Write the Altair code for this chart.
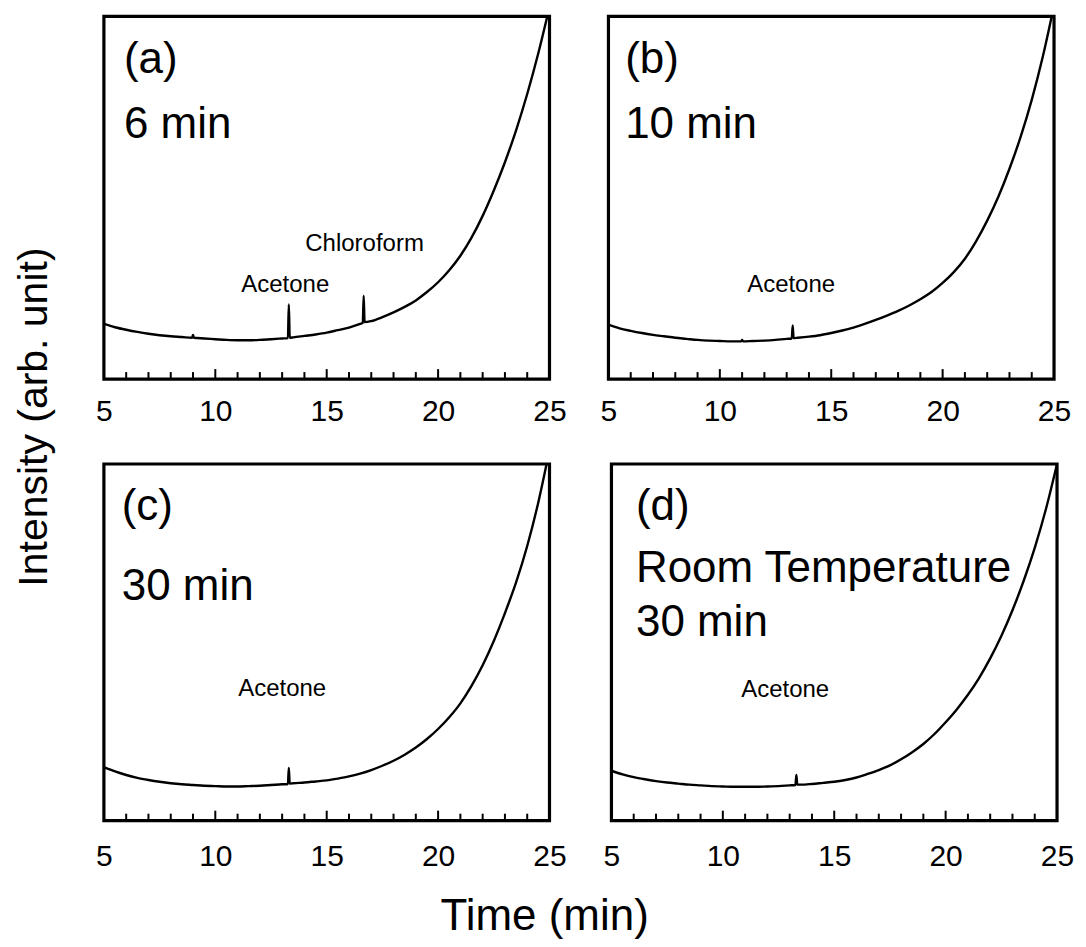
import altair as alt
import pandas as pd

FONT = "Liberation Sans"

# ---------------- data ----------------
# Panel (a) 6 min
time_a = [5.0, 5.5, 6.0, 6.5, 7.0, 7.5, 8.0, 8.5, 8.96, 9.0, 9.04, 9.5, 10.0, 10.5, 11.0, 11.5,
          12.0, 12.5, 13.0, 13.26, 13.3, 13.34, 13.5, 14.0, 14.5, 15.0, 15.5, 16.0, 16.5,
          16.62, 16.66, 16.7, 17.0, 17.5, 18.0, 18.5, 19.0, 19.5, 20.0, 20.5, 21.0, 21.5,
          22.0, 22.5, 23.0, 23.5, 24.0, 24.5, 25.0]
int_a = [0.152, 0.143, 0.136, 0.130, 0.125, 0.121, 0.118, 0.116, 0.114, 0.122, 0.114, 0.112,
         0.110, 0.108, 0.107, 0.107, 0.108, 0.110, 0.112, 0.113, 0.206, 0.114, 0.115, 0.119,
         0.123, 0.128, 0.135, 0.142, 0.152, 0.155, 0.230, 0.157, 0.160, 0.171, 0.184, 0.199,
         0.217, 0.240, 0.267, 0.300, 0.340, 0.390, 0.450, 0.520, 0.598, 0.686, 0.786, 0.899,
         1.026]

# Panel (b) 10 min
time_b = [5.0, 5.5, 6.0, 6.5, 7.0, 7.5, 8.0, 8.5, 9.0, 9.5, 10.0, 10.5, 10.96, 11.0, 11.04,
          11.5, 12.0, 12.5, 13.0, 13.23, 13.27, 13.31, 13.5, 14.0, 14.5, 15.0, 15.5, 16.0,
          16.5, 17.0, 17.5, 18.0, 18.5, 19.0, 19.5, 20.0, 20.5, 21.0, 21.5, 22.0, 22.5, 23.0,
          23.5, 24.0, 24.5, 25.0]
int_b = [0.150, 0.140, 0.133, 0.127, 0.122, 0.118, 0.114, 0.111, 0.108, 0.106, 0.105, 0.104,
         0.104, 0.108, 0.104, 0.105, 0.106, 0.108, 0.111, 0.112, 0.148, 0.113, 0.114, 0.117,
         0.121, 0.127, 0.134, 0.142, 0.152, 0.163, 0.175, 0.188, 0.203, 0.220, 0.240, 0.265,
         0.295, 0.332, 0.380, 0.437, 0.503, 0.580, 0.668, 0.770, 0.890, 1.030]

# Panel (c) 30 min
time_c = [5.0, 5.5, 6.0, 6.5, 7.0, 7.5, 8.0, 8.5, 9.0, 9.5, 10.0, 10.5, 11.0, 11.5, 12.0, 12.5,
          13.0, 13.26, 13.3, 13.34, 13.5, 14.0, 14.5, 15.0, 15.5, 16.0, 16.5, 17.0, 17.5, 18.0,
          18.5, 19.0, 19.5, 20.0, 20.5, 21.0, 21.5, 22.0, 22.5, 23.0, 23.5, 24.0, 24.5, 25.0]
int_c = [0.150, 0.138, 0.128, 0.120, 0.114, 0.109, 0.105, 0.102, 0.100, 0.098, 0.097, 0.096,
         0.096, 0.097, 0.098, 0.100, 0.102, 0.103, 0.148, 0.104, 0.105, 0.107, 0.110, 0.113,
         0.118, 0.124, 0.132, 0.142, 0.154, 0.168, 0.185, 0.205, 0.229, 0.257, 0.290, 0.329,
         0.378, 0.436, 0.504, 0.582, 0.668, 0.770, 0.893, 1.040]

# Panel (d) room temperature, 30 min
time_d = [5.0, 5.5, 6.0, 6.5, 7.0, 7.5, 8.0, 8.5, 9.0, 9.5, 10.0, 10.5, 11.0, 11.5, 12.0, 12.5,
          13.0, 13.26, 13.3, 13.34, 13.5, 14.0, 14.5, 15.0, 15.5, 16.0, 16.5, 17.0, 17.5, 18.0,
          18.5, 19.0, 19.5, 20.0, 20.5, 21.0, 21.5, 22.0, 22.5, 23.0, 23.5, 24.0, 24.5, 25.0]
int_d = [0.140, 0.130, 0.122, 0.116, 0.111, 0.107, 0.104, 0.101, 0.099, 0.097, 0.096, 0.095,
         0.095, 0.095, 0.096, 0.097, 0.099, 0.100, 0.128, 0.101, 0.101, 0.103, 0.106, 0.109,
         0.114, 0.121, 0.131, 0.142, 0.155, 0.172, 0.192, 0.215, 0.243, 0.276, 0.312, 0.353,
         0.400, 0.455, 0.518, 0.590, 0.672, 0.765, 0.873, 1.000]

# Panel labels: (text, time, intensity)
big_a = [("(a)", 5.9, 0.880), ("6 min", 5.9, 0.700)]
big_b = [("(b)", 5.75, 0.880), ("10 min", 5.75, 0.700)]
big_c = [("(c)", 5.8, 0.880), ("30 min", 5.8, 0.655)]
big_d = [("(d)", 6.1, 0.880), ("Room Temperature", 6.1, 0.705), ("30 min", 6.1, 0.555)]

small_a = [("Acetone", 13.14, 0.259), ("Chloroform", 16.7, 0.372)]
small_b = [("Acetone", 13.2, 0.260)]
small_c = [("Acetone", 13.0, 0.368)]
small_d = [("Acetone", 12.8, 0.366)]

tick_labels = [5, 10, 15, 20, 25]
minor_ticks = [6, 7, 8, 9, 11, 12, 13, 14, 16, 17, 18, 19, 21, 22, 23, 24]
major_ticks = [10, 15, 20]

W = 446
H_TOP = 363
H_BOT = 357


def panel(times, vals, big, small, h, lab_pad):
    xsc = alt.Scale(domain=[5, 25], nice=False, zero=False)
    ysc = alt.Scale(domain=[0, 1], nice=False, zero=False)
    df = pd.DataFrame({"t": times, "v": vals})
    line = alt.Chart(df).mark_line(color="black", strokeWidth=2.4, clip=True,
                                   interpolate="monotone").encode(
        x=alt.X("t:Q", scale=xsc,
                axis=alt.Axis(values=tick_labels, title=None, domain=False, ticks=False,
                              grid=False, labelFontSize=30, labelFont=FONT,
                              labelColor="black", labelPadding=lab_pad, labelFlush=False,
                              format="d")),
        y=alt.Y("v:Q", scale=ysc, axis=None),
    )
    minor = alt.Chart(pd.DataFrame({"t": minor_ticks})).mark_rule(
        color="black", strokeWidth=2).encode(
        x=alt.X("t:Q", scale=xsc), y=alt.value(h), y2=alt.value(h - 7))
    major = alt.Chart(pd.DataFrame({"t": major_ticks})).mark_rule(
        color="black", strokeWidth=2).encode(
        x=alt.X("t:Q", scale=xsc), y=alt.value(h), y2=alt.value(h - 10))
    bdf = pd.DataFrame(big, columns=["label", "t", "v"])
    btxt = alt.Chart(bdf).mark_text(align="left", baseline="middle", fontSize=44,
                                    font=FONT, color="black").encode(
        x=alt.X("t:Q", scale=xsc), y=alt.Y("v:Q", scale=ysc), text="label:N")
    sdf = pd.DataFrame(small, columns=["label", "t", "v"])
    stxt = alt.Chart(sdf).mark_text(align="center", baseline="middle", fontSize=24,
                                    font=FONT, color="black").encode(
        x=alt.X("t:Q", scale=xsc), y=alt.Y("v:Q", scale=ysc), text="label:N")
    return alt.layer(line, minor, major, btxt, stxt).properties(width=W, height=h)


pa = panel(time_a, int_a, big_a, small_a, H_TOP, 17)
pb = panel(time_b, int_b, big_b, small_b, H_TOP, 17)
pc = panel(time_c, int_c, big_c, small_c, H_BOT, 21)
pd_ = panel(time_d, int_d, big_d, small_d, H_BOT, 21)

row1 = alt.hconcat(pa, pb, spacing=30)
row2 = alt.hconcat(pc, pd_, spacing=33)

grid = alt.vconcat(row1, row2, spacing=34).properties(
    title=alt.TitleParams("Intensity (arb. unit)", orient="left", anchor="middle",
                          fontSize=41, font=FONT, fontWeight="normal", color="black",
                          offset=38, dx=27)
)

chart = alt.vconcat(grid).properties(
    title=alt.TitleParams("Time (min)", orient="bottom", anchor="middle",
                          fontSize=44, font=FONT, fontWeight="normal", color="black",
                          offset=22),
    padding={"left": 14, "top": 14, "right": 10, "bottom": 5},
    background="white",
).configure_view(stroke="black", strokeWidth=3.2)

chart.save("out.html", embed_options={"renderer": "svg", "actions": False})
